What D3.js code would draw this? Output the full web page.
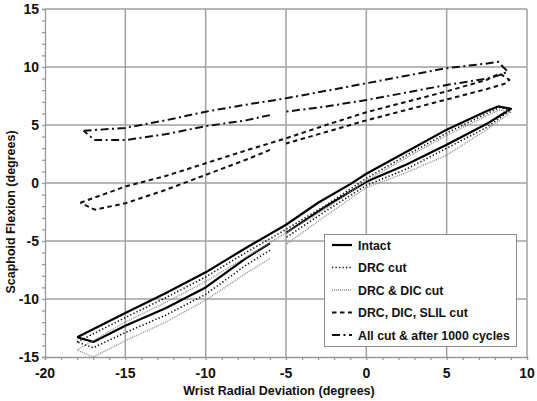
<!DOCTYPE html>
<html><head><meta charset="utf-8">
<script src="https://cdn.jsdelivr.net/npm/d3@7"></script>
<style>body{margin:0;background:#fff}svg{display:block}text{font-family:"Liberation Sans",Arial,sans-serif;font-weight:bold;fill:#111}</style>
</head><body><svg id="c" width="537" height="401"></svg>
<script>
// tick values
const xTicks = [-20, -15, -10, -5, 0, 5, 10];
const yTicks = [-15, -10, -5, 0, 5, 10, 15];
const seriesNames = ["Intact", "DRC cut", "DRC & DIC cut", "DRC, DIC, SLIL cut", "All cut & after 1000 cycles"];

// Loop branches: upper branch left->right, lower branch right->left (null = gap)
const intactUpper = [[-18,-13.3],[-15,-11.2],[-12.5,-9.5],[-10,-7.7],[-7.5,-5.6],[-5,-3.6],[-3,-1.7],[-1,-0.1],[0,0.8],[2.5,2.7],[5,4.6],[7.5,6.2],[8.2,6.6],[9,6.4]];
const intactLower = [[9,6.4],[7.5,5.1],[5,3.3],[2.5,1.6],[0,0.1],[-2.5,-2.0],[-5,-4.3],null,[-6,-5.2],[-7.5,-6.5],[-10,-9.0],[-12.5,-10.8],[-15,-12.3],[-17,-13.7],[-18,-13.3]];

const drcUpper = [[-18,-13.7],[-15,-11.6],[-12.5,-9.9],[-10,-8.1],[-7.5,-6.0],[-5,-4.0],[-2.5,-1.9],[0,0.4],[2.5,2.4],[5,4.3],[7.5,6.0],[8.3,6.5],[9,6.3]];
const drcLower = [[9,6.3],[7.5,4.8],[5,3.0],[2.5,1.2],[0,-0.2],[-2.5,-2.4],[-5,-4.7],null,[-6,-5.8],[-7.5,-7.1],[-10,-9.6],[-12.5,-11.4],[-15,-12.9],[-17,-14.2],[-18,-13.7]];

const drcDicUpper = [[-18,-14.4],[-15,-12.0],[-12.5,-10.3],[-10,-8.5],[-7.5,-6.4],[-5,-4.3],[-2.5,-2.2],[0,0.2],[2.5,2.2],[5,4.1],[7.5,5.8],[8.3,6.3],[9,6.1]];
const drcDicLower = [[9,6.0],[7.5,4.6],[5,2.4],[2.5,0.9],[0,-0.4],[-2.5,-2.8],[-5,-5.3],null,[-6,-6.5],[-7.5,-7.8],[-10,-10.1],[-12.5,-12.0],[-15,-13.6],[-17,-15.0],[-18,-14.4]];

const slilUpper = [[-17.8,-1.7],[-15,-0.3],[-12.5,0.6],[-10,1.7],[-7.5,2.8],[-5,3.85],[-2.5,5.0],[0,6.1],[2.5,7.0],[5,7.9],[7.5,8.9],[8.3,9.45],[8.9,8.9]];
const slilLower = [[8.9,8.9],[8.7,8.6],[7.5,8.1],[5,7.2],[2.5,6.3],[0,5.4],[-2.5,4.4],[-5,3.4],null,[-6,2.85],[-7.5,2.0],[-10,0.7],[-12.5,-0.6],[-15,-1.75],[-16.9,-2.3],[-17.8,-1.7]];

const allCutUpper = [[-17.6,4.5],[-15,4.75],[-12.5,5.4],[-10,6.15],[-7.5,6.75],[-5,7.3],[-2.5,7.95],[0,8.6],[2.5,9.25],[5,9.9],[7.5,10.3],[8.2,10.45],[8.8,9.6]];
const allCutLower = [[8.8,9.6],[8.3,9.3],[7.5,9.0],[5,8.45],[2.5,7.8],[0,7.15],[-2.5,6.6],[-5,6.15],null,[-6,5.85],[-7.5,5.4],[-10,4.9],[-12.5,4.2],[-15,3.7],[-16.9,3.7],[-17.6,4.5]];

const branches = [
  [intactUpper, intactLower],
  [drcUpper, drcLower],
  [drcDicUpper, drcDicLower],
  [slilUpper, slilLower],
  [allCutUpper, allCutLower]
];
const styles = [
  {stroke:"#000", w:2.2, dash:null},
  {stroke:"#111", w:1.6, dash:"1.3,2.2"},
  {stroke:"#8a8a8a", w:1.3, dash:"1,1"},
  {stroke:"#111", w:2, dash:"4.5,3.5"},
  {stroke:"#111", w:2, dash:"8,3.5,2,3.5"}
];

const svg = d3.select("#c");
const x = d3.scaleLinear().domain([-20, 10]).range([45, 527]);
const y = d3.scaleLinear().domain([-15, 15]).range([357, 9]);

// grid
const g = svg.append("g");
g.selectAll(".gx").data(xTicks.slice(1)).join("line")
  .attr("x1", d => x(d)).attr("x2", d => x(d)).attr("y1", y(-15)).attr("y2", y(15))
  .attr("stroke", "#a0a0a0").attr("stroke-width", 1.5);
g.selectAll(".gy").data(yTicks.slice(1)).join("line")
  .attr("y1", d => y(d)).attr("y2", d => y(d)).attr("x1", x(-20)).attr("x2", x(10))
  .attr("stroke", "#a0a0a0").attr("stroke-width", 1.5);

// axes
const xAxis = d3.axisBottom(x).tickValues(d3.range(-20, 11, 1)).tickSize(3).tickFormat("");
const yAxis = d3.axisLeft(y).tickValues(d3.range(-15, 16, 1)).tickSize(3).tickFormat("");
const ax = svg.append("g").attr("transform", `translate(0,${y(-15)})`).call(xAxis);
const ay = svg.append("g").attr("transform", `translate(${x(-20)},0)`).call(yAxis);
[ax, ay].forEach(a => { a.selectAll("path,line").attr("stroke", "#999").attr("stroke-width", 1.3); });

svg.selectAll(".xl").data(xTicks).join("text")
  .attr("x", d => x(d)).attr("y", 378).attr("text-anchor", "middle")
  .attr("font-size", 14).text(d => d);
svg.selectAll(".yl").data(yTicks).join("text")
  .attr("x", 39).attr("y", d => y(d) + 5).attr("text-anchor", "end")
  .attr("font-size", 14).text(d => d);

svg.append("text").attr("x", 279).attr("y", 395).attr("text-anchor", "middle")
  .attr("font-size", 12.5).text("Wrist Radial Deviation (degrees)");
svg.append("text").attr("transform", "translate(15,212) rotate(-90)").attr("text-anchor", "middle")
  .attr("font-size", 12.5).text("Scaphoid Flexion (degrees)");

// series
const line = d3.line().defined(d => d !== null).x(d => x(d[0])).y(d => y(d[1]));
branches.forEach((b, i) => {
  const s = styles[i];
  const pts = b[0].concat(b[1].slice(1));
  svg.append("path").attr("d", line(pts)).attr("fill", "none")
    .attr("stroke", s.stroke).attr("stroke-width", s.w)
    .attr("stroke-dasharray", s.dash).attr("stroke-linejoin", "round");
});

// legend
const lg = svg.append("g");
lg.append("rect").attr("x", 324.5).attr("y", 234.5).attr("width", 192).attr("height", 112)
  .attr("fill", "#fff").attr("stroke", "#8c8c8c").attr("stroke-width", 1);
seriesNames.forEach((n, i) => {
  const s = styles[i];
  const yy = 245 + i * 22.5;
  lg.append("line").attr("x1", 332).attr("x2", 352).attr("y1", yy).attr("y2", yy)
    .attr("stroke", s.stroke).attr("stroke-width", s.w).attr("stroke-dasharray", s.dash);
  lg.append("text").attr("x", 358).attr("y", yy + 4.5).attr("font-size", 12.3).text(n);
});
</script></body></html>
